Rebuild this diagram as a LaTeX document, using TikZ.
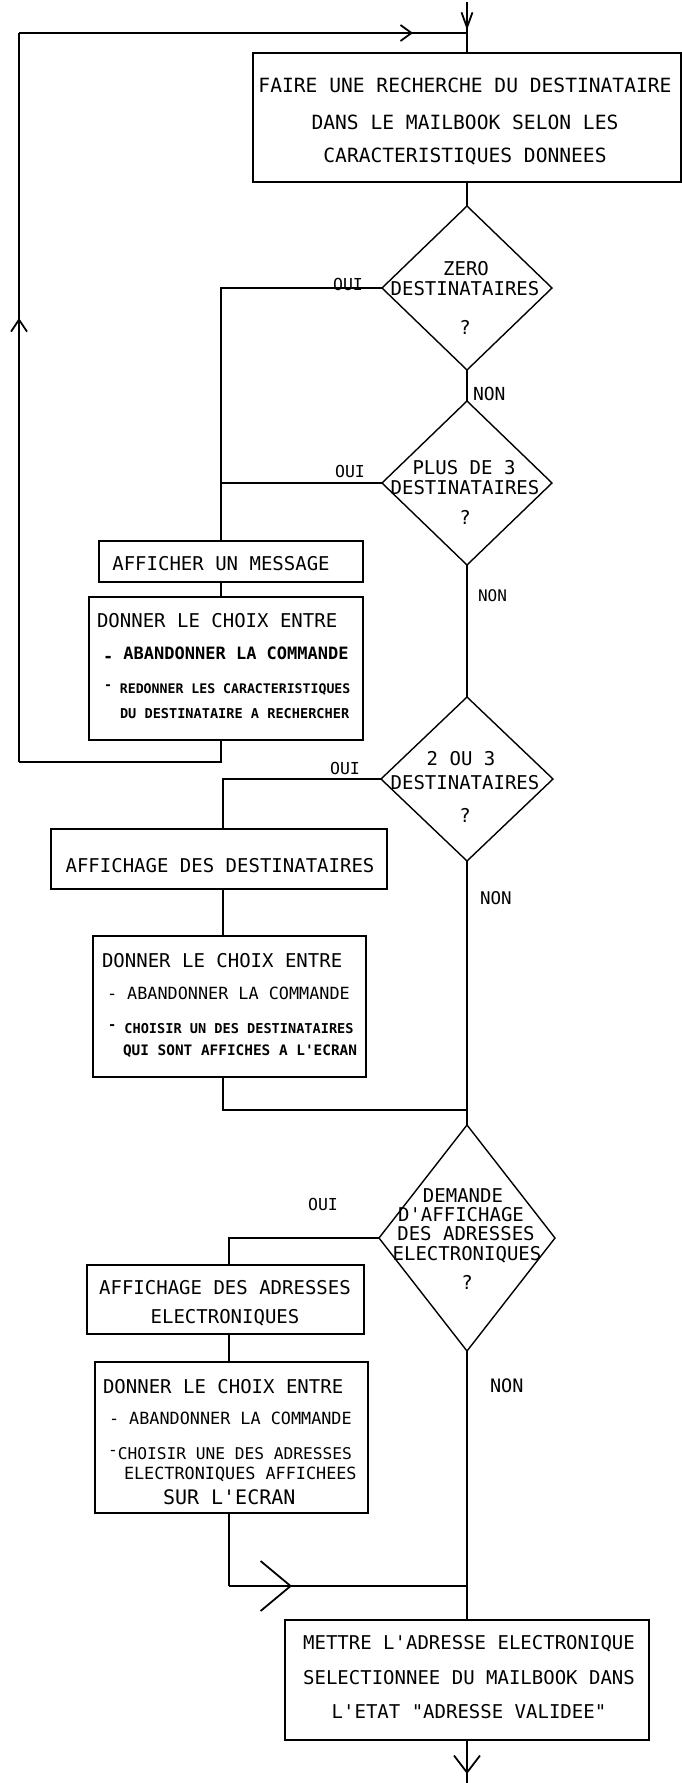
\documentclass[tikz,border=0pt]{standalone}
\usepackage{fontspec}
\newfontfamily\plotfont{DejaVu Sans Mono}
\usetikzlibrary{shapes.geometric,arrows.meta,decorations.markings,fit}
\newcommand{\hid}{\raisebox{0.45ex}{-}}
\newcommand{\lod}{\raisebox{-0.35ex}{-}}
\begin{document}
\begin{tikzpicture}[x=1pt,y=-1pt,
  box/.style={draw, line width=2.2pt, rectangle, inner sep=0pt, outer sep=0pt},
  dia/.style={draw, diamond, line width=1.4pt, inner sep=0pt, outer sep=0pt},
  ln/.style={line width=1.8pt},
  tx/.style={inner sep=0pt, outer sep=0pt, font=\plotfont\fontsize{#1}{#1}\selectfont},
  tx/.default=19,
  tb/.style={inner sep=0pt, outer sep=0pt, font=\plotfont\bfseries\fontsize{#1}{#1}\selectfont},
  barb/.style n args={3}{postaction={decorate}, decoration={markings,
      mark=at position #1 with {\arrow{Straight Barb[length=#2, width=#3]}}}}
]
\fill[white] (0,0) rectangle (682,1783);
\useasboundingbox (0,0) rectangle (682,1783);

% boxes
\node[box, fit={(253,53) (681,182)}] (b1) {};
\node[box, fit={(99,541) (363,582)}] (afm) {};
\node[box, fit={(89,597) (363,740)}] (dc1) {};
\node[box, fit={(51,829) (387,889)}] (ads) {};
\node[box, fit={(93,936) (366,1077)}] (dc2) {};
\node[box, fit={(87,1265) (364,1334)}] (ada) {};
\node[box, fit={(95,1362) (368,1513)}] (dc3) {};
\node[box, fit={(285,1620) (649,1740)}] (fb) {};

% diamonds
\node[dia, minimum width=170pt, minimum height=164pt] (d1) at (467,288) {};
\node[dia, minimum width=170pt, minimum height=164pt] (d2) at (467,483) {};
\node[dia, minimum width=172pt, minimum height=164pt] (d3) at (467,779) {};
\node[dia, minimum width=176pt, minimum height=226pt] (d4) at (467,1238) {};

% texts box1
\node[tx=19.6, anchor=base] (b1a) at (465,92) {FAIRE UNE RECHERCHE DU DESTINATAIRE};
\node[tx=19.6, anchor=base] (b1b) at (465,129) {DANS LE MAILBOOK SELON LES};
\node[tx=19.6, anchor=base] (b1c) at (465,162) {CARACTERISTIQUES DONNEES};

% diamond texts
\node[tx, anchor=base] (d1a) at (466,275) {ZERO};
\node[tx, anchor=base] (d1b) at (465,295) {DESTINATAIRES};
\node[tx, anchor=base] (d1c) at (465,334) {?};
\node[tx, anchor=base] (d2a) at (464,474) {PLUS DE 3};
\node[tx, anchor=base] (d2b) at (465,494) {DESTINATAIRES};
\node[tx, anchor=base] (d2c) at (465,524) {?};
\node[tx, anchor=base] (d3a) at (461,765) {2 OU 3};
\node[tx, anchor=base] (d3b) at (465,789) {DESTINATAIRES};
\node[tx, anchor=base] (d3c) at (465,822) {?};
\node[tx, anchor=base] (d4a) at (463,1202) {DEMANDE};
\node[tx, anchor=base] (d4b) at (461,1221) {D'AFFICHAGE};
\node[tx, anchor=base] (d4c) at (466,1240) {DES ADRESSES};
\node[tx, anchor=base] (d4d) at (467,1260) {ELECTRONIQUES};
\node[tx, anchor=base] (d4e) at (467,1289) {?};

% labels
\node[tx=16.5, anchor=base] (o1) at (348,290) {OUI};
\node[tx=16.5, anchor=base] (o2) at (350,477) {OUI};
\node[tx=16.5, anchor=base] (o3) at (345,774) {OUI};
\node[tx=16.5, anchor=base] (o4) at (323,1210) {OUI};
\node[tx=18, anchor=base west] (n1) at (473,400) {NON};
\node[tx=16, anchor=base west] (n2) at (478,601) {NON};
\node[tx=17.5, anchor=base west] (n3) at (480,904) {NON};
\node[tx=18.5, anchor=base west] (n4) at (490,1392) {NON};

% left boxes texts
\node[tx, anchor=base] (afmt) at (221,570) {AFFICHER UN MESSAGE};
\node[tx, anchor=base west] (c1a) at (97,627) {DONNER LE CHOIX ENTRE};
\node[tb=17, anchor=base west] (c1b) at (103,659) {\lod{} ABANDONNER LA COMMANDE};
\node[tb=13.2, anchor=base west] (c1c) at (104,693) {\hid{} REDONNER LES CARACTERISTIQUES};
\node[tb=13.6, anchor=base west] (c1d) at (120,718) {DU DESTINATAIRE A RECHERCHER};

\node[tx, anchor=base] (adst) at (220,872) {AFFICHAGE DES DESTINATAIRES};
\node[tx, anchor=base west] (c2a) at (102,967) {DONNER LE CHOIX ENTRE};
\node[tx=16.8, anchor=base west] (c2b) at (107,999) {- ABANDONNER LA COMMANDE};
\node[tb=13.6, anchor=base west] (c2c) at (108,1033) {\hid{} CHOISIR UN DES DESTINATAIRES};
\node[tb=14.4, anchor=base west] (c2d) at (123,1055) {QUI SONT AFFICHES A L'ECRAN};

\node[tx, anchor=base] (adaa) at (225,1294) {AFFICHAGE DES ADRESSES};
\node[tx, anchor=base] (adab) at (225,1323) {ELECTRONIQUES};
\node[tx, anchor=base west] (c3a) at (103,1393) {DONNER LE CHOIX ENTRE};
\node[tx=16.8, anchor=base west] (c3b) at (109,1424) {- ABANDONNER LA COMMANDE};
\node[tx=16.2, anchor=base west] (c3c) at (108,1459) {\hid{}CHOISIR UNE DES ADRESSES};
\node[tx=16.8, anchor=base west] (c3d) at (124,1479) {ELECTRONIQUES AFFICHEES};
\node[tx=20, anchor=base west] (c3e) at (163,1504) {SUR L'ECRAN};

\node[tx, anchor=base] (fba) at (469,1649) {METTRE L'ADRESSE ELECTRONIQUE};
\node[tx, anchor=base] (fbb) at (469,1684) {SELECTIONNEE DU MAILBOOK DANS};
\node[tx, anchor=base] (fbc) at (469,1718) {L'ETAT "ADRESSE VALIDEE"};

% coordinates
\coordinate (in) at (467,2);
\coordinate (out) at (467,1783);
\coordinate (k1) at (221,0);
\coordinate (k2) at (223,0);
\coordinate (k3) at (229,0);
\coordinate (lb) at (19,762);
\coordinate (lt) at (19,33);
\coordinate (tj) at (467,33);
\coordinate (j1) at (467,1110);
\coordinate (j2) at (467,1586);

% main line
\draw[ln, barb={28pt}{15pt}{11pt}] (in) -- (b1.north);
\draw[ln] (b1.south) -- (d1.north);
\draw[ln] (d1.south) -- (d2.north);
\draw[ln] (d2.south) -- (d3.north);
\draw[ln] (d3.south) -- (d4.north);
\draw[ln] (d4.south) -- (fb.north);
\draw[ln, barb={34pt}{17pt}{26pt}] (fb.south) -- (out);

% branch 1 and loop
\draw[ln] (d1.west) -- (d1.west -| k1) -- (k1 |- afm.north);
\draw[ln] (d2.west) -- (d2.west -| k1);
\draw[ln] (k1 |- afm.south) -- (k1 |- dc1.north);
\draw[ln] (k1 |- dc1.south) -- (k1 |- lb) -- (lb);
\draw[ln, barb={444pt}{12pt}{16pt}] (lb) -- (lt);
\draw[ln, barb={394pt}{11pt}{16pt}] (lt) -- (tj);

% branch 2
\draw[ln] (d3.west) -- (d3.west -| k2) -- (k2 |- ads.north);
\draw[ln] (k2 |- ads.south) -- (k2 |- dc2.north);
\draw[ln] (k2 |- dc2.south) -- (k2 |- j1) -- (j1);

% branch 3
\draw[ln] (d4.west) -- (d4.west -| k3) -- (k3 |- ada.north);
\draw[ln] (k3 |- ada.south) -- (k3 |- dc3.north);
\draw[ln] (k3 |- dc3.south) -- (k3 |- j2);
\draw[ln, barb={63pt}{30pt}{50pt}] (k3 |- j2) -- (j2);
\end{tikzpicture}
\end{document}
